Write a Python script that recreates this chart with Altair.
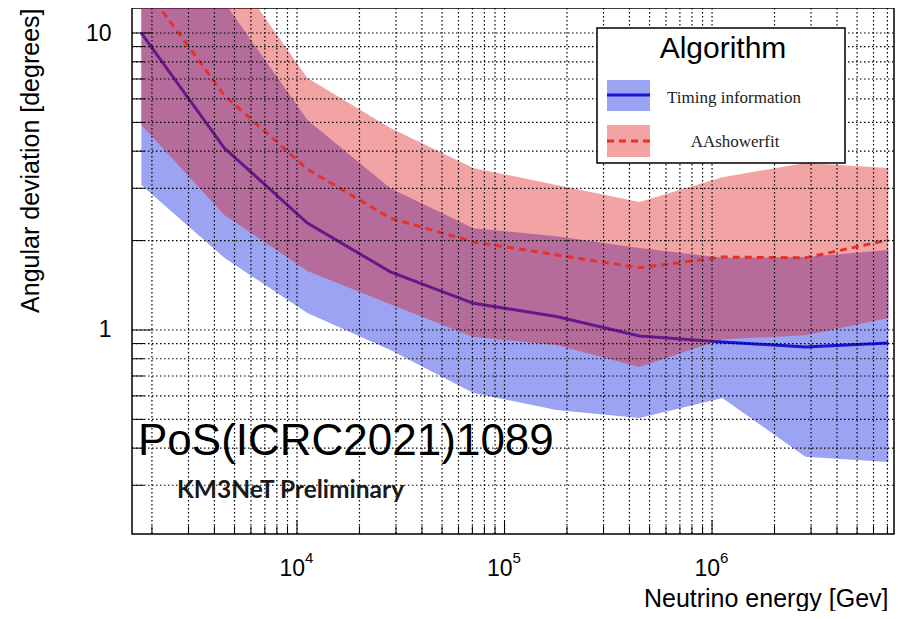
import altair as alt
import pandas as pd

# ---- data ----
energy = [1778, 4467, 11220, 28180, 70790, 177800, 446700, 1122000, 2818000, 7079000]
timing_med = [10.0, 4.10, 2.29, 1.57, 1.23, 1.11, 0.955, 0.911, 0.877, 0.904]
timing_lo = [3.08, 1.75, 1.14, 0.856, 0.614, 0.538, 0.505, 0.59, 0.374, 0.359]
timing_hi = [32.0, 12.7, 5.09, 3.0, 2.2, 2.07, 1.89, 1.75, 1.76, 1.86]
aa_med = [14.8, 6.17, 3.48, 2.38, 1.98, 1.79, 1.62, 1.76, 1.75, 2.01]
aa_lo = [4.9, 2.44, 1.58, 1.22, 0.947, 0.89, 0.75, 0.93, 0.96, 1.097]
aa_hi = [44.0, 17.6, 7.05, 4.79, 3.51, 3.08, 2.70, 3.27, 3.65, 3.51]

x_major = [1e4, 1e5, 1e6]
x_major_base = ["10", "10", "10"]
x_major_exp = ["4", "5", "6"]
x_minor = [2000, 3000, 4000, 5000, 6000, 7000, 8000, 9000,
           20000, 30000, 40000, 50000, 60000, 70000, 80000, 90000,
           200000, 300000, 400000, 500000, 600000, 700000, 800000, 900000,
           2000000, 3000000, 4000000, 5000000, 6000000, 7000000]
y_major = [1, 10]
y_minor = [0.3, 0.4, 0.5, 0.6, 0.7, 0.8, 0.9, 2, 3, 4, 5, 6, 7, 8, 9]

W, H = 762, 526
BLUE = "#0519de"
RED = "#de1919"
ALPHA = 0.4

df = pd.DataFrame({"energy": energy, "t_med": timing_med, "t_lo": timing_lo, "t_hi": timing_hi,
                   "a_med": aa_med, "a_lo": aa_lo, "a_hi": aa_hi})

xscale = alt.Scale(type="log", domain=[1603, 7.53e6], nice=False)
yscale = alt.Scale(type="log", domain=[0.2056, 12.14], nice=False)

xaxis = alt.Axis(values=x_major, grid=False, ticks=False, domain=False, tickSize=0, labels=False,
                 title="Neutrino energy [Gev]", titleFont="Liberation Sans", titleFontSize=25,
                 titleFontWeight="normal", titleColor="black", titleAlign="right",
                 titleBaseline="alphabetic", titleX=W - 6, titleY=72)
yaxis = alt.Axis(values=y_major, grid=False, ticks=False, domain=False, tickSize=0,
                 labelExpr="datum.value < 5 ? '1' : '10'",
                 labelFont="Liberation Sans", labelFontSize=23, labelColor="black", labelPadding=21,
                 title="Angular deviation [degrees]", titleFont="Liberation Sans", titleFontSize=25,
                 titleFontWeight="normal", titleColor="black", titleAngle=-90, titleAlign="right",
                 titleBaseline="middle", titleX=-102, titleY=0)

def X(f):
    return alt.X(f, scale=xscale, axis=xaxis)

def Y(f):
    return alt.Y(f, scale=yscale, axis=yaxis)

base = alt.Chart(df)

blue_band = base.mark_area(color=BLUE, opacity=ALPHA, clip=True).encode(
    x=X("energy:Q"), y=Y("t_lo:Q"), y2="t_hi:Q")
blue_line = base.mark_line(color="#1616d4", strokeWidth=3, clip=True).encode(
    x=X("energy:Q"), y=Y("t_med:Q"))
red_band = base.mark_area(color=RED, opacity=ALPHA, clip=True).encode(
    x=X("energy:Q"), y=Y("a_lo:Q"), y2="a_hi:Q")
red_line = base.mark_line(color="#e8302a", strokeWidth=3, strokeDash=[7, 5], clip=True).encode(
    x=X("energy:Q"), y=Y("a_med:Q"))

xg = pd.DataFrame({"v": x_major + x_minor})
yg = pd.DataFrame({"v": y_major + y_minor})
grid_x = alt.Chart(xg).mark_rule(color="black", strokeWidth=1.2, strokeDash=[1.5, 2.5]).encode(
    x=X("v:Q"), y=alt.value(0), y2=alt.value(H))
grid_y = alt.Chart(yg).mark_rule(color="black", strokeWidth=1.2, strokeDash=[1.5, 2.5]).encode(
    y=Y("v:Q"), x=alt.value(0), x2=alt.value(W))

tick_xM = alt.Chart(pd.DataFrame({"v": x_major})).mark_rule(color="black", strokeWidth=1).encode(
    x=X("v:Q"), y=alt.value(H), y2=alt.value(H - 14))
tick_xm = alt.Chart(pd.DataFrame({"v": x_minor})).mark_rule(color="black", strokeWidth=1).encode(
    x=X("v:Q"), y=alt.value(H), y2=alt.value(H - 8))
tick_yM = alt.Chart(pd.DataFrame({"v": y_major})).mark_rule(color="black", strokeWidth=1).encode(
    y=Y("v:Q"), x=alt.value(0), x2=alt.value(20))
tick_ym = alt.Chart(pd.DataFrame({"v": y_minor})).mark_rule(color="black", strokeWidth=1).encode(
    y=Y("v:Q"), x=alt.value(0), x2=alt.value(12))

lab_df = pd.DataFrame({"v": x_major, "b": x_major_base, "e": x_major_exp})
xlab_base = alt.Chart(lab_df).mark_text(font="Liberation Sans", fontSize=23, align="right",
                                        baseline="alphabetic", color="black", dx=8).encode(
    x=X("v:Q"), y=alt.value(H + 42), text="b:N")
xlab_exp = alt.Chart(lab_df).mark_text(font="Liberation Sans", fontSize=15, align="left",
                                       baseline="alphabetic", color="black", dx=8).encode(
    x=X("v:Q"), y=alt.value(H + 29), text="e:N")

one = alt.Chart(pd.DataFrame({"a": [0]}))
leg_box = one.mark_rect(fill="white", stroke="black", strokeWidth=1.5).encode(
    x=alt.value(465), x2=alt.value(713), y=alt.value(20), y2=alt.value(155))
leg_title = one.mark_text(text="Algorithm", font="Liberation Sans", fontSize=30, align="center",
                          baseline="alphabetic", color="black").encode(x=alt.value(591), y=alt.value(50))
leg_bsw = one.mark_rect(fill=BLUE, opacity=ALPHA).encode(
    x=alt.value(475), x2=alt.value(518), y=alt.value(72), y2=alt.value(103))
leg_bln = one.mark_rule(color="#1616d4", strokeWidth=3).encode(
    x=alt.value(475), x2=alt.value(518), y=alt.value(87))
leg_rsw = one.mark_rect(fill=RED, opacity=ALPHA).encode(
    x=alt.value(475), x2=alt.value(518), y=alt.value(117), y2=alt.value(149))
leg_rln = one.mark_rule(color="#e8302a", strokeWidth=3, strokeDash=[7, 5]).encode(
    x=alt.value(475), x2=alt.value(518), y=alt.value(133))
leg_t1 = one.mark_text(text="Timing information", font="Liberation Serif", fontSize=17, align="center",
                       baseline="alphabetic", color="#222").encode(x=alt.value(602), y=alt.value(95))
leg_t2 = one.mark_text(text="AAshowerfit", font="Liberation Serif", fontSize=17, align="center",
                       baseline="alphabetic", color="#222").encode(x=alt.value(603), y=alt.value(139))

pos_txt = one.mark_text(text="PoS(ICRC2021)1089", font="Liberation Sans", fontSize=44, align="left",
                        baseline="alphabetic", color="black").encode(x=alt.value(6), y=alt.value(447))
km3_txt = one.mark_text(text="KM3NeT Preliminary", font="Lato", fontWeight="bold", fontSize=24.5,
                        align="left", baseline="alphabetic", color="#1a1a1a").encode(x=alt.value(45), y=alt.value(490))

chart = alt.layer(
    blue_band, blue_line, red_band, red_line,
    grid_x, grid_y, tick_xM, tick_xm, tick_yM, tick_ym, xlab_base, xlab_exp,
    leg_box, leg_title, leg_bsw, leg_bln, leg_rsw, leg_rln, leg_t1, leg_t2,
    pos_txt, km3_txt,
).properties(
    width=W, height=H,
    autosize=alt.AutoSizeParams(type="none"),
    padding={"left": 124, "top": 0, "right": 4, "bottom": 77},
).configure_view(stroke="black", strokeWidth=1.5)

chart.save("out.html", embed_options={"renderer": "svg", "actions": False})
